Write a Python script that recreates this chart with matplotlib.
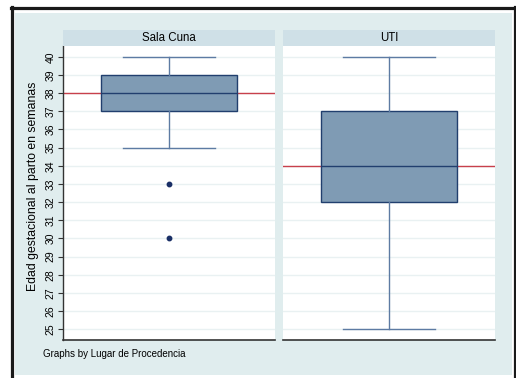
import matplotlib
matplotlib.use("Agg")
import matplotlib.pyplot as plt
from matplotlib.patches import Rectangle
from matplotlib.lines import Line2D

plt.rcParams["font.family"] = ["Liberation Sans", "DejaVu Sans"]

# data
groups = ["Sala Cuna", "UTI"]
q1 = [37, 32]
median = [38, 34]
q3 = [39, 37]
whis_lo = [35, 25]
whis_hi = [40, 40]
outliers = [[33, 30], []]
yticks = list(range(25, 41))

W, H = 516, 378
fig = plt.figure(figsize=(W / 100, H / 100), dpi=100, facecolor="white")

def px(x0, y0, x1, y1):		# pixel box -> figure fraction rect
	return [x0 / W, 1 - y1 / H, (x1 - x0) / W, (y1 - y0) / H]

# outer frame and stata-ish background
r = px(15, 13, 512, 375)
fig.add_artist(Rectangle((r[0], r[1]), r[2], r[3], transform=fig.transFigure,
	facecolor="#e0edee", edgecolor="none", zorder=0))
fk = dict(transform=fig.transFigure, color="#1a1a1a", lw=2.3, zorder=1)
fig.add_artist(Line2D([12 / W, 12 / W], [0, 1 - 7 / H], **fk))
fig.add_artist(Line2D([11 / W, 515 / W], [1 - 7.5 / H, 1 - 7.5 / H], **fk))
fig.add_artist(Line2D([514.5 / W, 514.5 / W], [0, 1 - 7 / H], **fk))

panels = [(63, 275), (283, 495)]
fill = "#7f9bb4"
edge = "#213f6e"
wcol = "#5d7ba3"

for i, g in enumerate(groups):
	x0, x1 = panels[i]
	ax = fig.add_axes(px(x0, 46, x1, 340))
	ax.set_facecolor("white")
	st = dict(med=median[i], q1=q1[i], q3=q3[i], whislo=whis_lo[i],
		whishi=whis_hi[i], fliers=outliers[i])
	ax.bxp([st], positions=[0.5], widths=0.64, patch_artist=True,
		boxprops=dict(facecolor=fill, edgecolor=edge, lw=1.0),
		medianprops=dict(color=edge, lw=1.0),
		whiskerprops=dict(color=wcol, lw=1.0),
		capprops=dict(color=wcol, lw=1.0), capwidths=0.43,
		flierprops=dict(marker="o", markersize=3.2, markerfacecolor="#1a2f66",
			markeredgecolor="#1a2f66"))
	ax.axhline(median[i], color="#c8404c", lw=1.0, zorder=1.5)
	for y in yticks:
		ax.axhline(y, color="#e9f1f2", lw=1.0, zorder=0.5)
	ax.set_xlim(0, 1)
	ax.set_ylim(24.4, 40.6)
	ax.set_xticks([])
	for s in ["top", "right"]:
		ax.spines[s].set_visible(False)
	ax.spines["bottom"].set_color("#333333")
	ax.spines["bottom"].set_linewidth(1.2)
	if i == 0:
		ax.spines["left"].set_color("#333333")
		ax.spines["left"].set_linewidth(1.0)
		ax.set_yticks(yticks)
		ax.set_yticklabels([str(v) for v in yticks], rotation=90, va="center",
			fontsize=7.5)
		ax.tick_params(axis="y", length=3.5, width=0.8, color="#333333", pad=2)
	else:
		ax.spines["left"].set_visible(False)
		ax.set_yticks([])

	sax = fig.add_axes(px(x0, 30, x1, 46))
	sax.set_facecolor("#cfe0e7")
	sax.set_xticks([])
	sax.set_yticks([])
	for s in sax.spines.values():
		s.set_visible(False)
	sax.text(0.5, 0.5, g, ha="center", va="center", fontsize=8.3,
		transform=sax.transAxes)

fig.text(33 / W, 1 - 186 / H, "Edad gestacional al parto en semanas",
	rotation=90, ha="center", va="center", fontsize=8.8)
fig.text(43 / W, 1 - 354 / H, "Graphs by Lugar de Procedencia",
	ha="left", va="center", fontsize=7)

fig.savefig("out.png", dpi=100, facecolor="white")
